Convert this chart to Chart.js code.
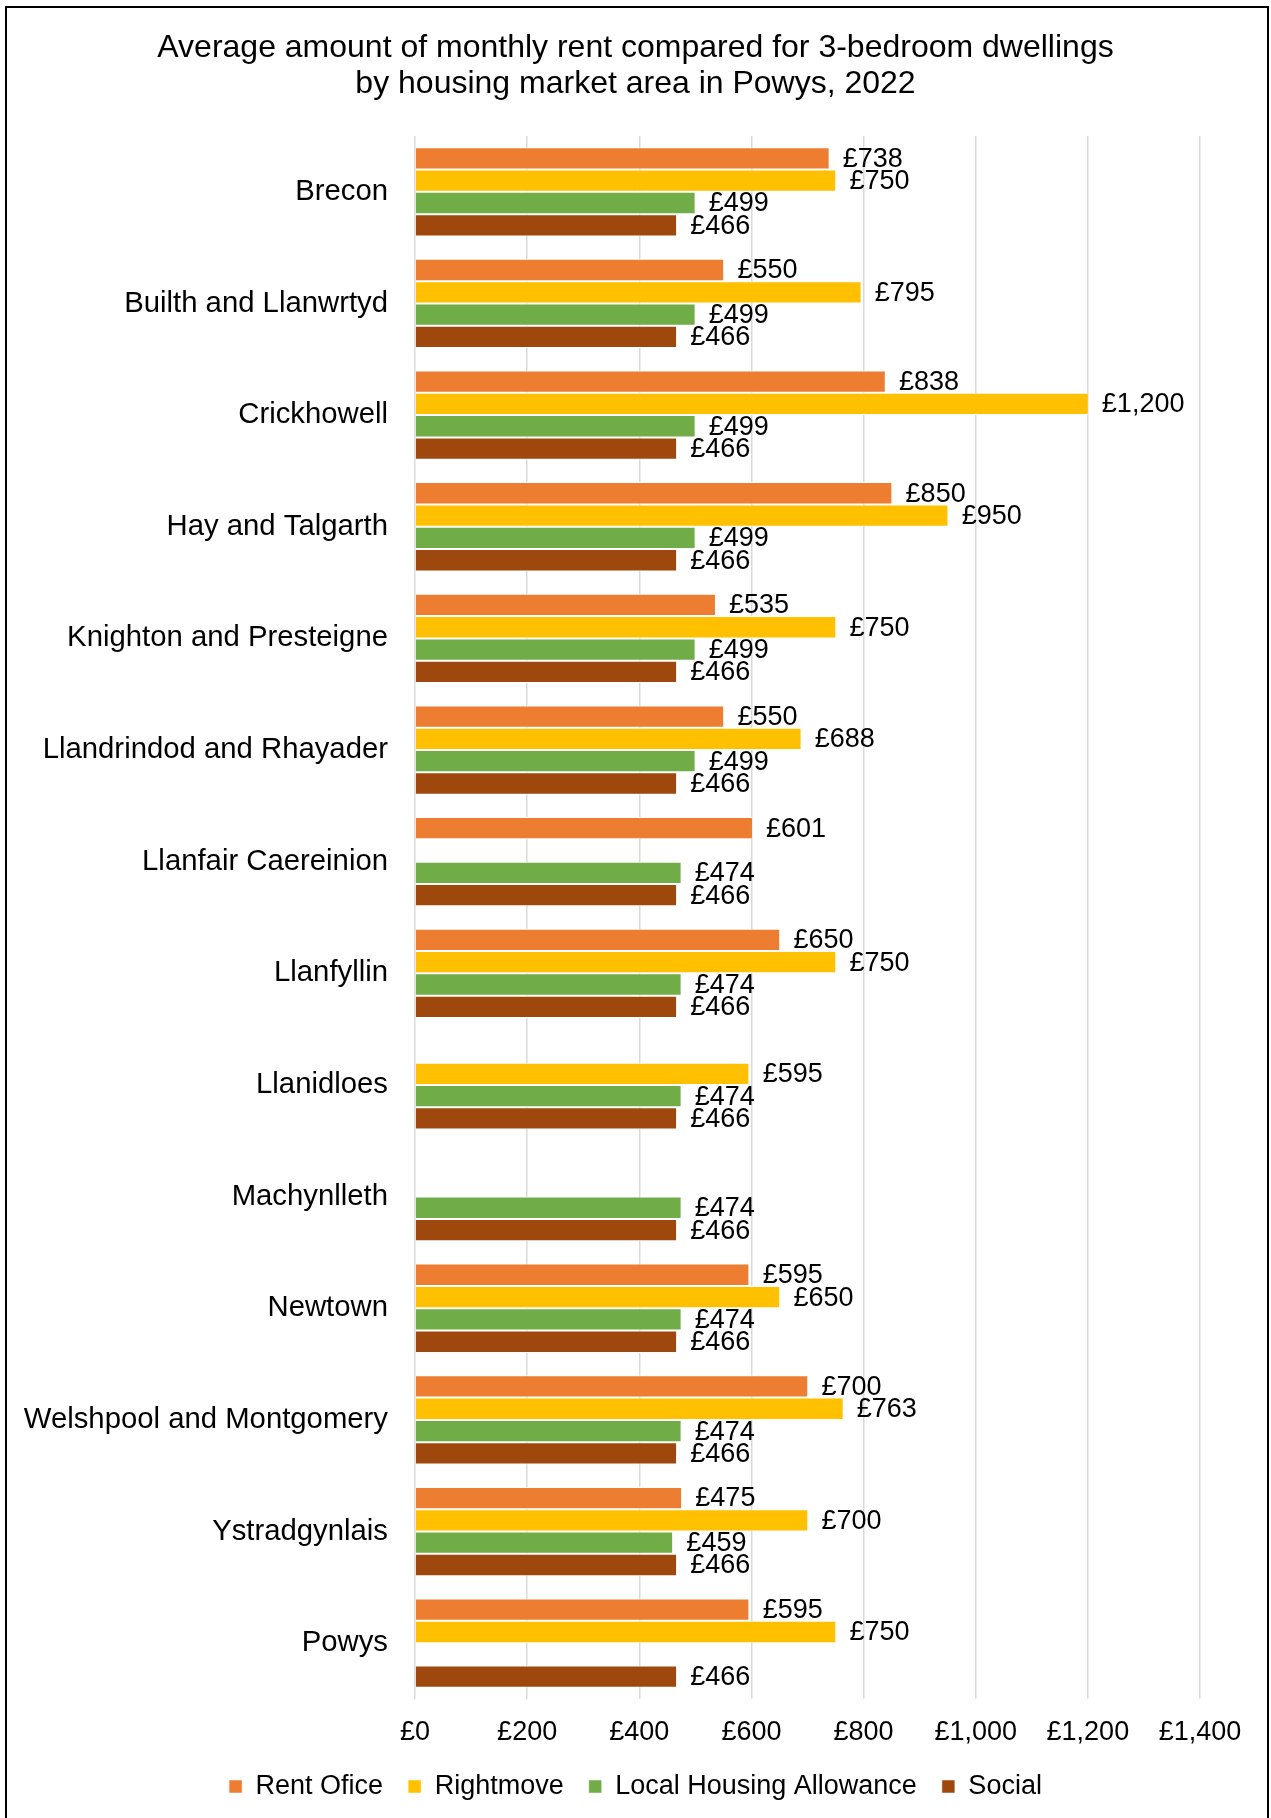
<!DOCTYPE html>
<html>
<head>
<meta charset="utf-8">
<script src="https://cdn.jsdelivr.net/npm/chart.js@4/dist/chart.umd.min.js"></script>
<style>
  html, body { margin: 0; padding: 0; background: #fff; }
  #wrap { width: 1271px; height: 1818px; }
</style>
</head>
<body>
<div id="wrap"><canvas id="c" width="1271" height="1818"></canvas></div>
<script>
const categories = [
  "Brecon", "Builth and Llanwrtyd", "Crickhowell", "Hay and Talgarth",
  "Knighton and Presteigne", "Llandrindod and Rhayader", "Llanfair Caereinion",
  "Llanfyllin", "Llanidloes", "Machynlleth", "Newtown",
  "Welshpool and Montgomery", "Ystradgynlais", "Powys"
];
const rentOffice = [738, 550, 838, 850, 535, 550, 601, 650, null, null, 595, 700, 475, 595];
const rightmove  = [750, 795, 1200, 950, 750, 688, null, 750, 595, null, 650, 763, 700, 750];
const lha        = [499, 499, 499, 499, 499, 499, 474, 474, 474, 474, 474, 474, 459, null];
const social     = [466, 466, 466, 466, 466, 466, 466, 466, 466, 466, 466, 466, 466, 466];
const seriesNames = ["Rent Ofice", "Rightmove", "Local Housing Allowance", "Social"];
const seriesColors = ["#ED7D31", "#FFC000", "#70AD47", "#9E480E"];
const xTicks = [0, 200, 400, 600, 800, 1000, 1200, 1400];
const titleLines = [
  "Average amount of monthly rent compared for 3-bedroom dwellings",
  "by housing market area in Powys, 2022"
];

const FONT = "'Liberation Sans', Arial, sans-serif";
const fmt = v => "£" + v.toLocaleString("en-GB");

const bgBorder = {
  id: "bgBorder",
  afterLayout(chart) {
    if (chart.legend) { chart.legend.left = 0; chart.legend.right = chart.width; }
    if (chart.titleBlock) { chart.titleBlock.left = 0; chart.titleBlock.right = chart.width; }
  },
  beforeDraw(chart) {
    const ctx = chart.ctx;
    ctx.save();
    ctx.fillStyle = "#fff";
    ctx.fillRect(0, 0, chart.width, chart.height);
    ctx.restore();
  },
  afterDraw(chart) {
    const ctx = chart.ctx;
    ctx.save();
    ctx.strokeStyle = "#000";
    ctx.lineWidth = 2;
    ctx.strokeRect(6, 7, 1262, 1900);
    ctx.restore();
  }
};

const valueLabels = {
  id: "valueLabels",
  afterDatasetsDraw(chart) {
    const ctx = chart.ctx;
    ctx.save();
    ctx.font = "27px " + FONT;
    ctx.fillStyle = "#000";
    ctx.textAlign = "left";
    ctx.textBaseline = "middle";
    chart.data.datasets.forEach((ds, di) => {
      const meta = chart.getDatasetMeta(di);
      meta.data.forEach((el, i) => {
        const v = ds.data[i];
        if (v === null || v === undefined) return;
        ctx.fillText(fmt(v), el.x + 14, el.y + 1);
      });
    });
    ctx.restore();
  }
};

const datasets = [rentOffice, rightmove, lha, social].map((d, i) => ({
  label: seriesNames[i],
  data: d,
  backgroundColor: seriesColors[i],
  borderColor: "#ffffff",
  borderWidth: { top: 1, bottom: 1, left: 0, right: 0 },
  borderSkipped: false,
  categoryPercentage: 0.8,
  barPercentage: 1.0
}));

new Chart(document.getElementById("c"), {
  type: "bar",
  data: { labels: categories, datasets },
  options: {
    indexAxis: "y",
    responsive: false,
    animation: false,
    devicePixelRatio: 1,
    layout: { padding: { top: 0, left: 0, right: 71, bottom: 8 } },
    scales: {
      x: {
        min: 0, max: 1400,
        afterBuildTicks(scale) { scale.ticks = xTicks.map(v => ({ value: v })); },
        afterFit(scale) { scale.height = 49; },
        ticks: {
          callback: v => fmt(v),
          font: { family: FONT, size: 27 },
          color: "#000",
          padding: 17,
          maxRotation: 0
        },
        grid: { color: "#D9D9D9", lineWidth: 1.5, drawTicks: false },
        border: { display: false }
      },
      y: {
        afterFit(scale) { scale.width = 415; },
        ticks: {
          font: { family: FONT, size: 29.3 },
          color: "#000",
          padding: 27
        },
        grid: { display: false, drawTicks: false },
        border: { display: false }
      }
    },
    plugins: {
      title: {
        display: true,
        text: titleLines,
        color: "#000",
        font: { family: FONT, size: 32, weight: "normal", lineHeight: 1.125 },
        padding: { top: 30, bottom: 34 }
      },
      legend: {
        position: "bottom",
        labels: {
          font: { family: FONT, size: 27 },
          color: "#000",
          boxWidth: 13,
          boxHeight: 13,
          padding: 25
        }
      },
      tooltip: { enabled: false }
    }
  },
  plugins: [bgBorder, valueLabels]
});
</script>
</body>
</html>
